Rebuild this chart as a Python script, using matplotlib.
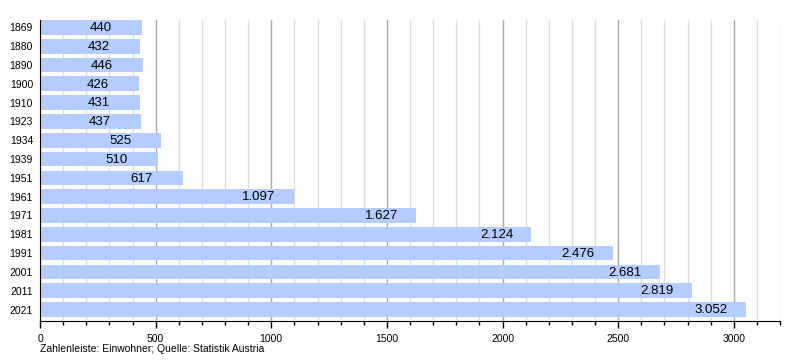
import numpy as np
import matplotlib as mpl
mpl.use("Agg")
import matplotlib.pyplot as plt
from matplotlib.ticker import MultipleLocator

years = ["1869", "1880", "1890", "1900", "1910", "1923", "1934", "1939",
         "1951", "1961", "1971", "1981", "1991", "2001", "2011", "2021"]
population = [440, 432, 446, 426, 431, 437, 525, 510,
              617, 1097, 1627, 2124, 2476, 2681, 2819, 3052]

plt.rcParams['font.family'] = ['Liberation Sans', 'DejaVu Sans']

def fmt_de(v):
    return "{:,}".format(v).replace(",", ".")

fig = plt.figure(figsize=(8, 3.6), dpi=100)
ax = fig.add_axes([0.05, 0.1083, 0.925, 0.836])

pos = np.arange(len(years))
ax.barh(pos, population, height=0.78, color="#b4ccfe", zorder=2)

for i, v in enumerate(population):
    lab = fmt_de(v)
    # label sits a bit left of the bar end
    off = 150 if len(lab) > 3 else 177
    ax.text(v - off, i + 0.04, lab, ha="center", va="center", fontsize=9.5, color="black", zorder=3)

ax.set_xlim(0, 3200)
ax.set_ylim(15.61, -0.39)
ax.set_yticks(pos)
ax.set_yticklabels(years, fontsize=7.5)
ax.xaxis.set_major_locator(MultipleLocator(500))
ax.xaxis.set_minor_locator(MultipleLocator(100))
ax.tick_params(axis="x", which="major", length=5, width=1, labelsize=7.5, pad=4)
ax.tick_params(axis="x", which="minor", length=3, width=1)
ax.tick_params(axis="y", length=0, pad=5)

ax.grid(axis="x", which="minor", color="#dddddd", linewidth=1, zorder=0)
ax.grid(axis="x", which="major", color="#aaaaaa", linewidth=1, zorder=0)
ax.set_axisbelow(True)

for s in ["top", "right"]:
    ax.spines[s].set_visible(False)
ax.spines["left"].set_color("black")
ax.spines["bottom"].set_color("black")

fig.text(40 / 800, 1 - 349 / 360, "Zahlenleiste: Einwohner; Quelle: Statistik Austria",
         fontsize=7.5, ha="left", va="center")

plt.savefig("out.png", dpi=100)
